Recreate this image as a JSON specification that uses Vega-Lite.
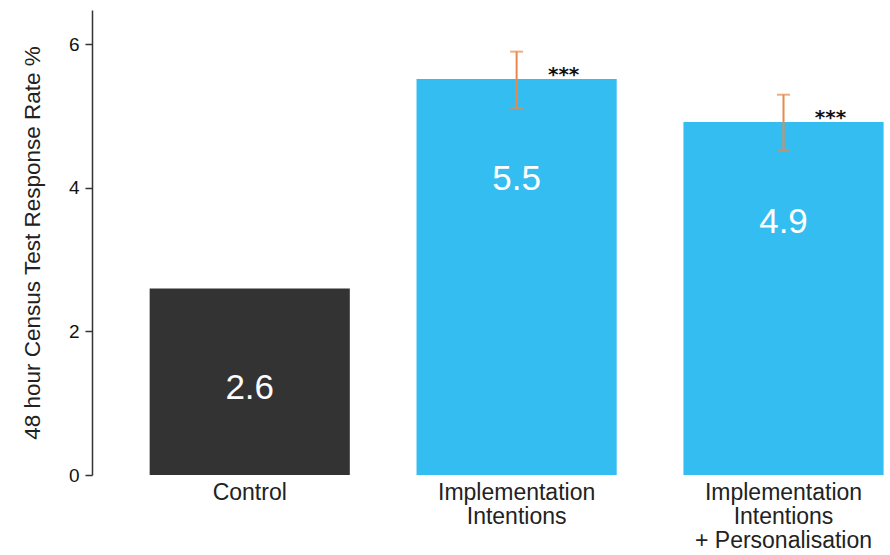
{
  "$schema": "https://vega.github.io/schema/vega-lite/v6.json",
  "autosize": {"type": "none"},
  "padding": {"left": 92, "top": 10, "right": 0, "bottom": 80},
  "width": 798,
  "height": 465,
  "background": "white",
  "config": {"view": {"stroke": null}},
  "data": {
    "values": [
      {"group": "Control", "value": 2.6, "label": "2.6", "lo": null, "hi": null, "sig": ""},
      {"group": "Implementation|Intentions", "value": 5.52, "label": "5.5", "lo": 5.11, "hi": 5.9, "sig": "***"},
      {"group": "Implementation|Intentions|+ Personalisation", "value": 4.92, "label": "4.9", "lo": 4.52, "hi": 5.3, "sig": "***"}
    ]
  },
  "encoding": {
    "x": {
      "field": "group",
      "type": "nominal",
      "sort": null,
      "scale": {"paddingInner": 0.25, "paddingOuter": 0.12, "align": 0.9},
      "axis": {
        "title": null,
        "domain": false,
        "ticks": false,
        "labelAngle": 0,
        "labelExpr": "split(datum.label, '|')",
        "labelFont": "Liberation Sans",
        "labelFontSize": 23,
        "labelLimit": 400,
        "labelColor": "#222222",
        "labelLineHeight": 24,
        "labelPadding": 6
      }
    }
  },
  "layer": [
    {
      "mark": {"type": "bar"},
      "encoding": {
        "y": {
          "field": "value",
          "type": "quantitative",
          "scale": {"domain": [0, 6.48], "nice": false},
          "axis": {
            "values": [0, 2, 4, 6],
            "format": "d",
            "grid": false,
            "domainColor": "#333333",
            "domainWidth": 1.5,
            "tickColor": "#333333",
            "tickSize": 7,
            "tickWidth": 1.5,
            "labelFont": "Liberation Sans",
            "labelFontSize": 19,
            "labelColor": "#111111",
            "labelPadding": 6,
            "title": "48 hour Census Test Response Rate %",
            "titleFont": "Liberation Sans",
            "titleFontSize": 22.5,
            "titleFontWeight": "normal",
            "titleColor": "#222222",
            "titlePadding": 24
          }
        },
        "color": {
          "condition": {"test": "datum.group === 'Control'", "value": "#333333"},
          "value": "#33BDF0"
        }
      }
    },
    {
      "mark": {"type": "rule", "color": "#E8894B", "strokeWidth": 2},
      "encoding": {
        "y": {"field": "lo", "type": "quantitative"},
        "y2": {"field": "hi"}
      }
    },
    {
      "mark": {"type": "tick", "color": "#E8894B", "thickness": 2, "size": 13},
      "encoding": {"y": {"field": "lo", "type": "quantitative"}}
    },
    {
      "mark": {"type": "tick", "color": "#E8894B", "thickness": 2, "size": 13},
      "encoding": {"y": {"field": "hi", "type": "quantitative"}}
    },
    {
      "mark": {"type": "text", "color": "white", "font": "Liberation Sans", "fontSize": 35, "baseline": "middle", "dy": 100},
      "encoding": {
        "y": {"field": "value", "type": "quantitative"},
        "text": {"field": "label"}
      }
    },
    {
      "mark": {"type": "text", "color": "#111111", "font": "DejaVu Sans", "fontSize": 20, "fontWeight": "bold", "baseline": "alphabetic", "dx": 47, "dy": 2},
      "encoding": {
        "y": {"field": "value", "type": "quantitative"},
        "text": {"field": "sig"}
      }
    }
  ]
}
